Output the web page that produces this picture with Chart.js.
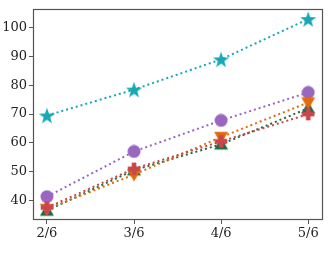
<!DOCTYPE html>
<html><head><meta charset="utf-8">
<script src="https://cdn.jsdelivr.net/npm/chart.js@4"></script>
<style>html,body{margin:0;padding:0;background:#fff}#wrap{width:332px;height:263px}</style>
</head><body><div id="wrap"><canvas id="c" width="332" height="263"></canvas></div>
<script>
const categories = ["2/6", "3/6", "4/6", "5/6"];
const starVals   = [69.5, 78.5, 89, 103];
const circleVals = [41.3, 57, 67.8, 77.5];
const plusVals   = [37.5, 51, 60.5, 70];
const triDownVals= [37, 49, 62, 74];
const triUpVals  = [36.5, 50.5, 59.5, 72];
const yTicks = [40, 50, 60, 70, 80, 90, 100];

function mk(size, draw){const c=document.createElement('canvas');c.width=size;c.height=size;const g=c.getContext('2d');draw(g,size);return c;}
function star(color){return mk(18,(g,s)=>{g.fillStyle=color;g.beginPath();const cx=s/2,cy=s/2+0.8,R=8.5,r=3.4;for(let i=0;i<10;i++){const a=-Math.PI/2+i*Math.PI/5;const rr=i%2?r:R;g.lineTo(cx+rr*Math.cos(a),cy+rr*Math.sin(a));}g.closePath();g.fill();});}
function circ(color){return mk(14,(g,s)=>{g.fillStyle=color;g.beginPath();g.arc(s/2,s/2,6.5,0,Math.PI*2);g.fill();});}
function plus(color){return mk(14,(g,s)=>{g.fillStyle=color;const w=4.6,L=12.5,o=(s-L)/2;g.fillRect(o,(s-w)/2,L,w);g.fillRect((s-w)/2,o,w,L);});}
function tri(color,down){return mk(16,(g,s)=>{g.fillStyle=color;g.beginPath();const c=s/2,h=7;if(down){g.moveTo(c-h,c-h*0.75);g.lineTo(c+h,c-h*0.75);g.lineTo(c,c+h);}else{g.moveTo(c-h,c+h*0.75);g.lineTo(c+h,c+h*0.75);g.lineTo(c,c-h);}g.closePath();g.fill();});}

const cols={star:'#16a8b6',circ:'#9a67c0',plus:'#c9474b',down:'#e36c0a',up:'#1e6b45'};
function ds(vals,color,img){return{data:vals.map((v,i)=>({x:i,y:v})),borderColor:color,backgroundColor:color,borderWidth:2,borderDash:[2,3],pointStyle:img,pointRadius:7,pointHoverRadius:7,tension:0,fill:false};}

const framePlugin={id:'frame',afterDraw(ch){const a=ch.chartArea,g=ch.ctx;g.save();g.strokeStyle='#555';g.lineWidth=1.2;g.strokeRect(Math.round(a.left)+0.5,Math.round(a.top)+0.5,Math.round(a.right-a.left)-1,Math.round(a.bottom-a.top)-1);g.restore();}};

new Chart(document.getElementById('c'),{
 type:'line',
 data:{datasets:[
  ds(plusVals,cols.plus,plus(cols.plus)),
  ds(triDownVals,cols.down,tri(cols.down,true)),
  ds(triUpVals,cols.up,tri(cols.up,false)),
  ds(circleVals,cols.circ,circ(cols.circ)),
  ds(starVals,cols.star,star(cols.star))
 ]},
 options:{responsive:false,animation:false,
  layout:{padding:{top:5,right:0,left:0,bottom:0}},
  plugins:{legend:{display:false},tooltip:{enabled:false}},
  scales:{
   x:{type:'linear',min:-0.16,max:3.17,
      afterBuildTicks(s){s.ticks=categories.map((c,i)=>({value:i}));},
      afterFit(s){s.height=43;s.paddingLeft=0;s.paddingRight=0;},
      ticks:{callback:(v)=>categories[v],color:'#222',font:{family:'DejaVu Serif',size:13},padding:2,maxRotation:0},
      grid:{drawOnChartArea:false,drawTicks:true,tickLength:4,color:'#555'},border:{display:false}},
   y:{type:'linear',min:33.2,max:106.5,
      afterBuildTicks(s){s.ticks=yTicks.map(v=>({value:v}));},
      afterFit(s){s.width=33;s.paddingTop=0;s.paddingBottom=0;},
      ticks:{color:'#222',font:{family:'DejaVu Serif',size:13},padding:2},
      grid:{drawOnChartArea:false,drawTicks:true,tickLength:4,color:'#555'},border:{display:false}}
  }},
 plugins:[framePlugin]
});
</script></body></html>
